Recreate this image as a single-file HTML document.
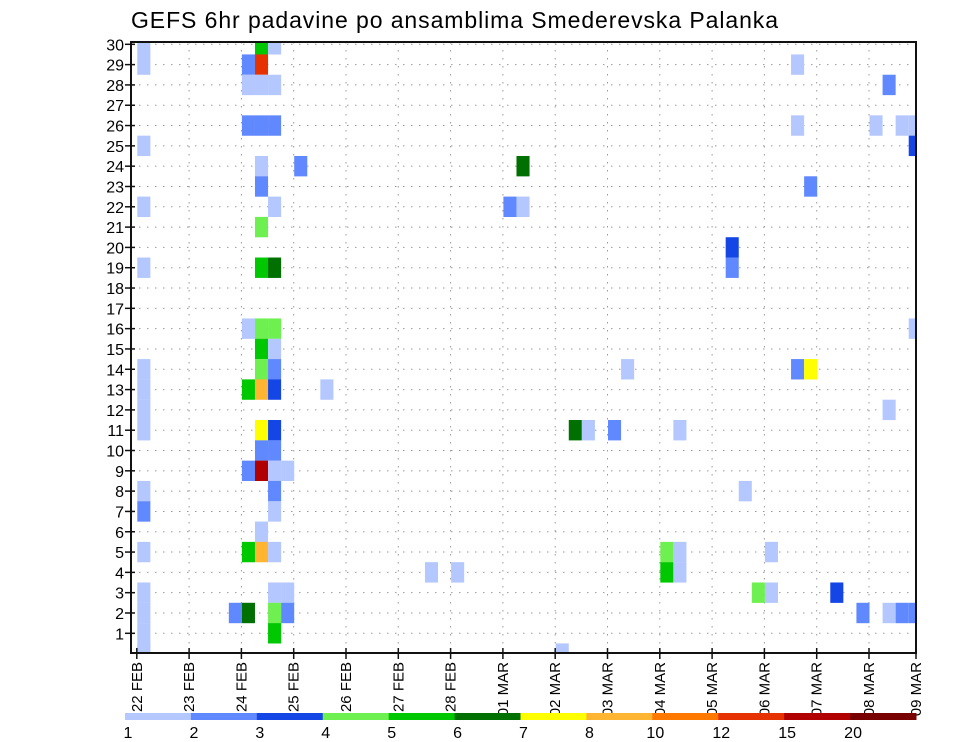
<!DOCTYPE html>
<html><head><meta charset="utf-8"><style>
html,body{margin:0;padding:0;background:#fff;}
svg{display:block;font-family:"Liberation Sans",sans-serif;}
</style></head><body>
<svg id="chart" width="960" height="742" viewBox="0 0 960 742" xmlns="http://www.w3.org/2000/svg">
<text x="131" y="28" font-size="23" fill="#000" textLength="647" lengthAdjust="spacing">GEFS 6hr padavine po ansamblima Smederevska Palanka</text>
<g id="grid"></g>
<g id="cells"></g>
<g id="axes"></g>
<g id="legend"></g>
</svg>
<script>
// data
const dayLabels = ["22 FEB","23 FEB","24 FEB","25 FEB","26 FEB","27 FEB","28 FEB","01 MAR","02 MAR","03 MAR","04 MAR","05 MAR","06 MAR","07 MAR","08 MAR","09 MAR"];
const memberTicks = [1,2,3,4,5,6,7,8,9,10,11,12,13,14,15,16,17,18,19,20,21,22,23,24,25,26,27,28,29,30];
const legendLabels = ["1","2","3","4","5","6","7","8","10","12","15","20"];
const classColors = ["#b4c8ff","#6088ff","#1446e6","#6ef050","#00c800","#007000","#ffff00","#ffb432","#ff7800","#e63200","#b00000","#780000"];
// cells: 6-hour step index, ensemble member, color class
const cellStep =   [0,0,0,0,0,0,0,0,0,0,0,0,0,0,0,0,0,
  9,10,8,9,8,9,10,8,9,10,9,12,9,10,9,
  9,10,8,9,10,9,10,9,10,8,9,10,9,10,9,10,8,9,10,11,10,10,9,8,9,10,10,11,7,8,10,11,10,
  14,29,28,29,37,33,34,36,41,22,24,32,40,41,40,41,48,47,48,53,
  50,57,50,56,58,59,59,51,45,45,59,50,51,57,46,55,57,58,59];
const cellMember = [30,29,25,22,19,13,12,11,8,7,5,3,2,1,0,14,0,
  30,30,29,29,28,28,28,26,26,26,24,24,23,22,21,
  19,19,16,16,16,15,15,14,14,13,13,13,11,11,10,10,9,9,9,9,8,7,6,5,5,5,3,3,2,2,2,2,1,
  13,24,22,22,14,11,11,11,11,4,4,0,5,5,4,4,5,3,3,3,
  29,28,26,26,26,26,25,23,20,19,16,14,14,12,8,2,2,2,2];
const cellClass =  [0,0,0,0,0,0,0,0,0,1,0,0,0,0,0,0,0,
  4,0,1,9,0,0,0,1,1,1,0,1,1,0,3,
  4,5,0,3,3,4,0,3,1,4,7,2,6,2,1,1,1,10,0,0,1,0,0,4,7,0,0,0,1,5,3,1,4,
  0,5,1,0,0,5,0,1,0,0,0,0,3,0,4,0,0,3,0,2,
  0,1,0,0,0,0,2,1,2,1,0,1,6,0,0,1,0,1,1];

const X0 = 131, X1 = 916, Y0 = 42, Y1 = 653;
const dayX0 = 136.8, dayW = 52.3, stepW = dayW / 4;
function xDay(d){ return dayX0 + d * dayW; }
function xStep(s){ return dayX0 + 0.5 + s * stepW; }
function yMem(m){ return 633.3 - (m - 1) * 20.31; }
const cellH = 20.4;
const NS = "http://www.w3.org/2000/svg";
function mk(tag, attrs, parent){ const e = document.createElementNS(NS, tag); for (const k in attrs) e.setAttribute(k, attrs[k]); parent.appendChild(e); return e; }

const grid = document.getElementById('grid');
memberTicks.forEach(m => {
  const l = mk('line', {x1:X0, x2:X1, y1:yMem(m), y2:yMem(m), stroke:'#999', 'stroke-width':1, 'stroke-dasharray':'1.5,6.5'}, grid);
  
  
});
dayLabels.forEach((d, i) => {
  if (i === 0) return;
  const x = xDay(i); if (x > X1) return;
  const l = mk('line', {x1:x, x2:x, y1:Y0, y2:Y1, stroke:'#999', 'stroke-width':1, 'stroke-dasharray':'1.5,6.5'}, grid);
  
  
});

const cg = document.getElementById('cells');
const clip = mk('clipPath', {id:'plotclip'}, document.getElementById('chart'));
mk('rect', {x:X0, y:Y0, width:X1 - X0, height:Y1 - Y0}, clip);
cg.setAttribute('clip-path', 'url(#plotclip)');
cellStep.forEach((s, i) => {
  const r = mk('rect', {x:xStep(s), y:yMem(cellMember[i]) - cellH/2, width:stepW, height:cellH, fill:classColors[cellClass[i]]}, cg);
  
  
});

const ax = document.getElementById('axes');
const frame = mk('rect', {x:X0, y:Y0, width:X1 - X0, height:Y1 - Y0, fill:'none', stroke:'#111', 'stroke-width':2}, ax);


memberTicks.forEach(m => {
  const y = yMem(m);
  const t = mk('line', {x1:X0 - 6, x2:X0 + 4, y1:y, y2:y, stroke:'#111', 'stroke-width':1.5}, ax);
  
  
  const tx = mk('text', {x:X0 - 7, y:y + 6, 'font-size':16, 'text-anchor':'end', fill:'#000'}, ax);
  
  
  tx.textContent = m;
});
dayLabels.forEach((d, i) => {
  const x = Math.min(xDay(i), X1);
  const t = mk('line', {x1:x, x2:x, y1:Y1 - 5, y2:Y1 + 6, stroke:'#111', 'stroke-width':1.5}, ax);
  
  
  const tx = mk('text', {x:0, y:0, 'font-size':15, 'text-anchor':'end', fill:'#000', transform:'translate(' + (x + 5) + ',' + (Y1 + 9) + ') rotate(-90)'}, ax);
  
  
  tx.textContent = d;
});

const lg = document.getElementById('legend');
const LX0 = 125, LX1 = 916, segW = (LX1 - LX0) / classColors.length;
classColors.forEach((c, i) => {
  const r = mk('rect', {x:LX0 + i * segW, y:713, width:segW + 0.5, height:7, fill:c}, lg);
  
  
});
legendLabels.forEach((t, i) => {
  const tx = mk('text', {x:LX0 + i * segW + 3, y:738, 'font-size':16, 'text-anchor':'middle', fill:'#000'}, lg);
  
  
  tx.textContent = t;
});
</script>
</body></html>
